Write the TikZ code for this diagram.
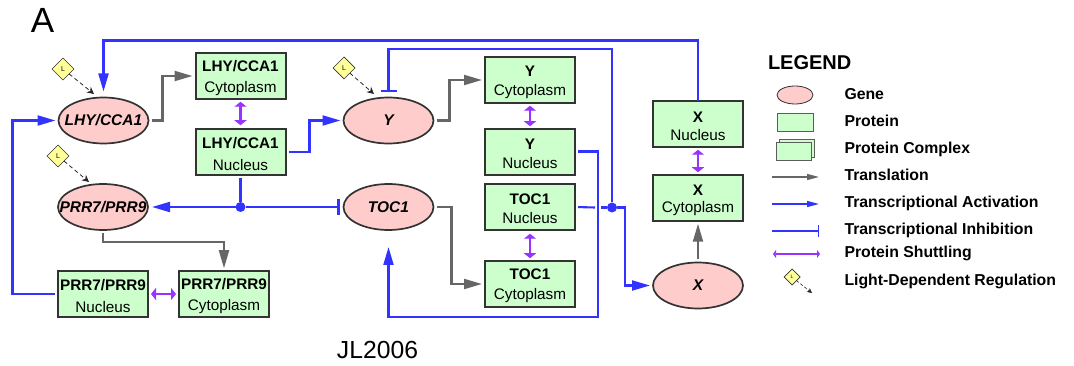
\documentclass[tikz,border=0pt]{standalone}
\usepackage{fontspec}
\setmainfont{Liberation Sans}
\usetikzlibrary{arrows.meta,shapes.geometric}
\definecolor{cblue}{HTML}{3333FF}
\definecolor{cgray}{HTML}{666666}
\definecolor{cpurple}{HTML}{9933FF}
\definecolor{cpink}{HTML}{FFCCCC}
\definecolor{cgreen}{HTML}{CCFFCC}
\definecolor{cyellow}{HTML}{FFFF99}
\definecolor{cedge}{HTML}{333333}
\newcommand{\gtext}[1]{\makebox[0pt]{#1}}
\newcommand{\ptx}[3][0pt]{\rule{0pt}{15pt}\textbf{#2}\\[#1]#3}
\tikzset{
 base/.style={inner sep=0pt,outer sep=0pt},
 gene/.style={base,ellipse,draw=cedge,line width=1.7pt,fill=cpink,minimum width=90pt,minimum height=46pt,font=\fontsize{15.5}{18}\selectfont\bfseries\itshape},
 protein/.style={base,rectangle,draw=cedge,line width=2pt,fill=cgreen,minimum width=90pt,minimum height=45.5pt,align=center,font=\fontsize{15.3}{21.5}\selectfont},
 lightd/.style={base,diamond,aspect=1,draw=cedge,line width=0.7pt,fill=cyellow,minimum width=22pt,minimum height=22pt,font=\fontsize{7}{8}\selectfont},
 dot/.style={base,circle,fill=cblue,minimum size=10pt},
 trans/.style={draw=cgray,line width=2.1pt,-{Triangle[length=18pt,width=10pt]},shorten <=3pt,shorten >=3pt},
 act/.style={draw=cblue,line width=2.1pt,-{Triangle[length=18pt,width=10pt]},shorten <=3pt,shorten >=3pt},
 plainblue/.style={draw=cblue,line width=2.1pt},
 inh/.style={draw=cblue,line width=2.1pt,-{Bar[width=16pt,line width=2.1pt]}},
 shuttle/.style={draw=cpurple,line width=2.2pt,{Triangle[length=5pt,width=12pt]}-{Triangle[length=5pt,width=12pt]}},
 ldep/.style={draw=black!85,line width=0.8pt,dashed,dash pattern=on 4pt off 3pt,-{Stealth[length=7pt,width=7pt]}},
 legtext/.style={base,anchor=base west,font=\fontsize{15.8}{18}\selectfont\bfseries},
 legline/.style={line width=1.4pt},
}
\begin{document}
\begin{tikzpicture}[x=1pt,y=-1pt]
\useasboundingbox (0,0) rectangle (1074,366);
\node[base,font=\fontsize{35}{40}\selectfont] (labA) at (42.5,20.5) {A};
\node[base,font=\fontsize{24.7}{28}\selectfont] (labJ) at (377.5,350) {JL2006};
% genes
\node[gene] (glhy) at (103.5,120.5) {\gtext{LHY/CCA1}};
\node[gene] (gprr) at (103,207) {\gtext{PRR7/PRR9}};
\node[gene] (gy) at (388.5,120.5) {\gtext{Y}};
\node[gene] (gtoc) at (388.5,207) {\gtext{TOC1}};
\node[gene] (gx) at (698,285.5) {\gtext{X}};
% proteins
\node[protein] (lhyc) at (240.5,76) {\ptx{LHY/CCA1}{Cytoplasm}};
\node[protein] (lhyn) at (240.5,152) {\ptx{LHY/CCA1}{Nucleus}};
\node[protein] (yc) at (530,80) {\ptx[-2.5pt]{Y}{Cytoplasm}};
\node[protein] (yn) at (530,152) {\ptx[-2.5pt]{Y}{Nucleus}};
\node[protein] (tocn) at (530,207) {\ptx[-2.5pt]{TOC1}{Nucleus}};
\node[protein] (tocc) at (530,284) {\ptx[-1.5pt]{TOC1}{Cytoplasm}};
\node[protein] (xn) at (698,124) {\ptx[-3pt]{X}{Nucleus}};
\node[protein] (xc) at (698,198) {\ptx[-4pt]{X}{Cytoplasm}};
\node[protein] (prrn) at (103,294) {\ptx{PRR7/PRR9}{Nucleus}};
\node[protein] (prrc) at (224,294) {\ptx{PRR7/PRR9}{Cytoplasm}};
% light
\node[lightd] (l1) at (63,69) {L};
\node[lightd] (l2) at (58,156) {L};
\node[lightd] (l3) at (344,68) {L};
\coordinate (l1t) at (94,94);
\coordinate (l2t) at (89,182);
\coordinate (l3t) at (374,94);
\draw[ldep] (l1) -- (l1t);
\draw[ldep] (l2) -- (l2t);
\draw[ldep] (l3) -- (l3t);
% junctions
\node[dot] (d1) at (240.5,207) {};
\node[dot] (d2) at (612,207.5) {};
\coordinate (gapL) at (595,207.5);
\coordinate (gapR) at (601,207.5);
% translation
\draw[trans] (glhy.east) -- ++(14,0) |- (lhyc.west);
\draw[trans] (gy.east) -- ++(16,0) |- (yc.west);
\draw[trans] (gtoc.east) -- ++(18,0) |- (tocc.west);
\draw[trans] (gprr.south) -- ++(0,12) -| (prrc.north);
\draw[trans] (gx.north) -- (xc.south);
% activation
\coordinate (top1) at (698,40.5);
\coordinate (top2) at (103.5,40.5);
\draw[act,shorten <=0pt,shorten >=6pt] (xn.north) -- (top1) -- (top2) -- (glhy.north);
\coordinate (left1) at (12.5,294);
\coordinate (left2) at (12.5,120.5);
\draw[act] (prrn.west) -- (left1) -- (left2) -- (glhy.west);
\draw[act] (lhyn.east) -- ++(24,0) |- (gy.west);
\draw[plainblue,shorten <=3pt] (lhyn.south) -- (d1);
\draw[act,shorten <=0pt,shorten >=4pt] (d1) -- (gprr.east);
\draw[inh,shorten >=4pt] (d1) -- (gtoc.west);
% Y inhibition loop
\coordinate (inh1) at (388.5,49);
\coordinate (inh2) at (612,49);
\draw[inh,shorten >=5pt] (d2) -- (inh2) -- (inh1) -- (gy.north);
% Y nucleus to TOC1
\coordinate (yl1) at (598,151.5);
\coordinate (yl2) at (598,317);
\coordinate (yl3) at (388.5,317);
\draw[act,shorten >=17pt] (yn.east) ++(0,-0.5) -- (yl1) -- (yl2) -- (yl3) -- (gtoc.south);
% TOC1 nucleus to X
\coordinate (xl1) at (625,207.5);
\draw[plainblue,shorten <=3pt] (tocn.east) -- (gapL);
\draw[plainblue] (gapR) -- (d2);
\draw[act,shorten <=0pt] (d2) -- (xl1) |- (gx.west);
% shuttling
\draw[shuttle,shorten <=3pt,shorten >=4pt] (lhyc) -- (lhyn);
\draw[shuttle,shorten <=3pt,shorten >=3pt] (yc) -- (yn);
\draw[shuttle,shorten <=4pt,shorten >=3pt] (tocn) -- (tocc);
\draw[shuttle,shorten <=3pt,shorten >=3pt] (xn) -- (xc);
\draw[shuttle,shorten <=3pt,shorten >=3pt] (prrn) -- (prrc);
% legend
\node[base,anchor=west,font=\fontsize{20}{24}\selectfont\bfseries] (leg) at (768,62.5) {LEGEND};
\node[base,ellipse,draw=cedge,line width=0.8pt,fill=cpink,minimum width=36pt,minimum height=18pt] (lg1) at (795,95) {};
\node[base,draw=cedge!80,line width=0.8pt,fill=cgreen,minimum width=36pt,minimum height=18pt] (lg2) at (795,122.5) {};
\node[base,draw=cedge!80,line width=0.8pt,fill=cgreen,minimum width=35pt,minimum height=18pt] (lg3b) at (797,148.5) {};
\node[base,draw=cedge!80,line width=0.8pt,fill=cgreen,minimum width=35pt,minimum height=18pt] (lg3) at (794,151) {};
\coordinate (a1) at (772,177); \coordinate (a2) at (819,177);
\coordinate (b1) at (772,204); \coordinate (b2) at (819,204);
\coordinate (c1) at (772,231); \coordinate (c2) at (819,231);
\coordinate (e1) at (773,254); \coordinate (e2) at (820,254);
\draw[draw=cgray,legline,-{Triangle[length=12pt,width=6pt]}] (a1) -- (a2);
\draw[draw=cblue,legline,-{Triangle[length=12pt,width=6pt]}] (b1) -- (b2);
\draw[draw=cblue,legline,-{Bar[width=12pt,line width=1.5pt]}] (c1) -- (c2);
\draw[draw=cpurple,legline,{Triangle[length=3pt,width=8pt]}-{Triangle[length=3pt,width=8pt]}] (e1) -- (e2);
\node[lightd,minimum width=16pt,minimum height=16pt,font=\fontsize{5}{6}\selectfont] (lg6) at (792,277) {L};
\coordinate (lg6t) at (812,293);
\draw[ldep,line width=0.6pt,dash pattern=on 3pt off 2pt,-{Stealth[length=5pt,width=5pt]}] (lg6) -- (lg6t);
\node[legtext] (t1) at (844.5,99.3) {Gene};
\node[legtext] (t2) at (844.5,126.7) {Protein};
\node[legtext] (t3) at (844.5,154) {Protein Complex};
\node[legtext] (t4) at (844.5,181) {Translation};
\node[legtext] (t5) at (844.5,208) {Transcriptional Activation};
\node[legtext] (t6) at (844.5,235) {Transcriptional Inhibition};
\node[legtext] (t7) at (844.5,258) {Protein Shuttling};
\node[legtext] (t8) at (844.5,285) {Light-Dependent Regulation};
\end{tikzpicture}
\end{document}
